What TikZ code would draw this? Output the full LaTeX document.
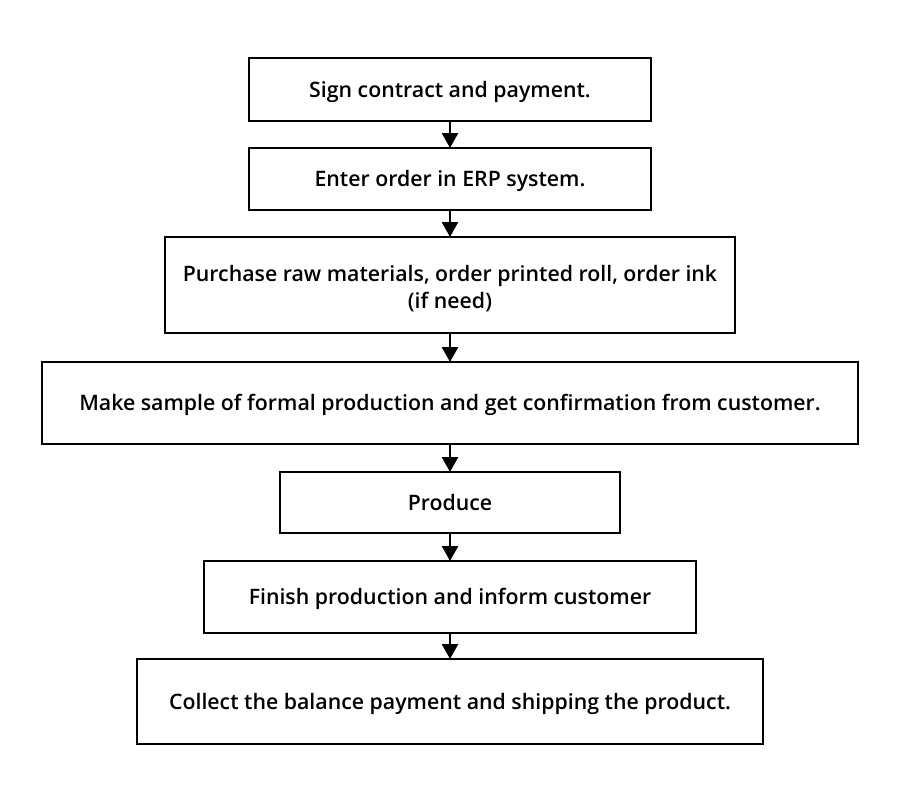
\documentclass[tikz,border=0pt]{standalone}
\usepackage{fontspec}
\setmainfont{Open Sans}[BoldFont={Open Sans Semibold}]
\usetikzlibrary{arrows.meta}

\begin{document}
\begin{tikzpicture}[x=1pt,y=1pt,
	stepbox/.style={draw,line width=1.2pt,align=center,inner sep=0pt,outer sep=0pt,
		font=\fontsize{21.3}{27}\selectfont\bfseries},
	oneline/.style={text height=18pt,text depth=3pt},
	flow/.style={line width=2.6pt,-{Triangle[width=16pt,length=15pt]}}]
	\useasboundingbox (0,0) rectangle (902,-804);
	\node[stepbox,oneline,minimum width=402pt,minimum height=63pt] (sign) at (450,-89.5)
		{Sign contract and payment.};
	\node[stepbox,oneline,minimum width=402pt,minimum height=62pt] (enter) at (450,-179)
		{Enter order in ERP system.};
	\node[stepbox,minimum width=570pt,minimum height=96pt] (buy) at (450,-285)
		{\rule{0pt}{24pt}Purchase raw materials, order printed roll, order ink\\(if need)};
	\node[stepbox,oneline,minimum width=816pt,minimum height=82pt] (sample) at (450,-403)
		{Make sample of formal production and get confirmation from customer.};
	\node[stepbox,oneline,minimum width=340pt,minimum height=61pt] (produce) at (450,-502.5)
		{Produce};
	\node[stepbox,oneline,minimum width=492pt,minimum height=72pt] (finish) at (450,-597)
		{Finish production and inform customer};
	\node[stepbox,oneline,minimum width=626pt,minimum height=85pt] (collect) at (450,-701.5)
		{Collect the balance payment and shipping the product.};
	\foreach \a/\b in {sign/enter,enter/buy,buy/sample,sample/produce,produce/finish,finish/collect}{
		\draw[flow] (\a) -- (\b);
	}
\end{tikzpicture}
\end{document}
